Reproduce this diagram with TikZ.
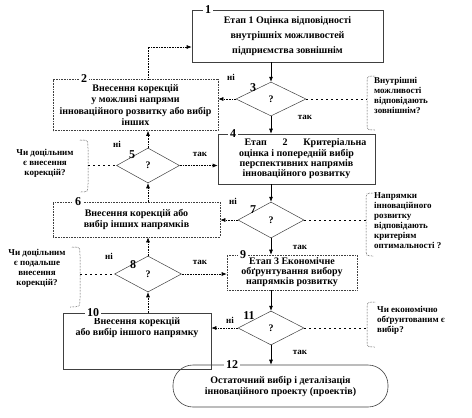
\documentclass[tikz,border=0pt]{standalone}
\usepackage{fontspec}
\setmainfont{Liberation Serif}
\usetikzlibrary{shapes.geometric,arrows.meta,calc}
\begin{document}
\begin{tikzpicture}[x=1pt,y=-1pt,
  every node/.style={font=\bfseries\fontsize{10}{11}\selectfont, inner sep=0pt},
  box/.style={draw=black!75, line width=0.6pt, align=center},
  dbox/.style={box, densely dotted},
  dia/.style={diamond, draw=black!75, line width=0.5pt, inner sep=0pt},
  num/.style={font=\bfseries\fontsize{12}{12}\selectfont, fill=white, inner xsep=2pt, inner ysep=1pt},
  dnum/.style={font=\bfseries\fontsize{12}{12}\selectfont},
  lab/.style={font=\bfseries\fontsize{9}{9}\selectfont},
  note/.style={font=\bfseries\fontsize{9}{10}\selectfont},
  arr/.style={-{Latex[length=5pt,width=4pt]}, line width=0.6pt},
  darr/.style={arr, densely dotted},
  link/.style={line width=0.5pt, dash pattern=on 2pt off 3pt},
  brace/.style={line width=0.5pt, densely dotted}
]
\useasboundingbox (0,0) rectangle (472,418);

% boxes
\node[box, minimum width=191pt, minimum height=52pt, font=\bfseries\fontsize{10}{15}\selectfont] (b1) at (287.5,36)
  {Етап 1 Оцінка відповідності\\внутрішніх можливостей\\підприємства зовнішнім};
\node[num] (n1) at (208,10) {1};

\node[dbox, minimum width=165pt, minimum height=51pt, font=\bfseries\fontsize{10}{11.5}\selectfont] (b2) at (135.5,105)
  {Внесення корекцій\\у можливі напрями\\інноваційного розвитку або вибір\\інших};
\node[num] (n2) at (84,79) {2};

\node[box, minimum width=157pt, minimum height=50pt, font=\bfseries\fontsize{10}{10.3}\selectfont] (b4) at (296.5,159)
  {\makebox[140pt][r]{\makebox[122pt][s]{Етап 2 Критеріальна}}\\оцінка і попередній вибір\\перспективних напрямів\\інноваційного розвитку};
\node[num] (n4) at (233,134) {4};

\node[dbox, minimum width=167pt, minimum height=35pt] (b6) at (136.5,219.5)
  {Внесення корекцій або\\вибір інших напрямків};
\node[num] (n6) at (78,202) {6};

\node[dbox, minimum width=130pt, minimum height=35pt, font=\bfseries\fontsize{10}{10}\selectfont] (b9) at (292,272.5)
  {Етап 3 Економічне\\обґрунтування вибору\\напрямків розвитку};
\node[num] (n9) at (243,255) {9};

\node[box, minimum width=148pt, minimum height=56pt] (b10) at (137,341) {};
\node[anchor=north, align=center] (t10) at ($(b10.north)+(0,5)$)
  {Внесення корекцій\\або вибір іншого напрямку};
\node[num] (n10) at (93,313) {10};

\node[draw=black!75, line width=0.6pt, rounded corners=20pt, minimum width=215pt, minimum height=42pt, align=center] (e12) at (280.5,386)
  {Остаточний вибір і деталізація\\інноваційного проекту (проектів)};
\node[num] (n12) at (232,365) {12};

% diamonds
\node[dia, minimum width=70pt, minimum height=34pt] (d3) at (271,99) {?};
\node[dnum] at (253,88) {3};
\node[dia, minimum width=63pt, minimum height=35pt] (d5) at (148,165.5) {?};
\node[dnum] at (132,155) {5};
\node[dia, minimum width=66pt, minimum height=36pt] (d7) at (271,220) {?};
\node[dnum] at (253,210) {7};
\node[dia, minimum width=67pt, minimum height=36pt] (d8) at (148,274) {?};
\node[dnum] at (133,265) {8};
\node[dia, minimum width=66pt, minimum height=34pt] (d11) at (271,328) {?};
\node[dnum] at (249,316) {11};

% yes / no labels
\node[lab] at (231,77) {ні};
\node[lab] at (305,117) {так};
\node[lab] at (117,144) {ні};
\node[lab] at (200,154) {так};
\node[lab] at (233,201) {ні};
\node[lab] at (300,247) {так};
\node[lab] at (109,256) {ні};
\node[lab] at (200,262) {так};
\node[lab] at (230,320) {ні};
\node[lab] at (300,352) {так};

% main flow
\draw[arr] (d3.north |- b1.south) -- (d3.north);
\draw[arr] (d3.south) -- (d3.south |- b4.north);
\draw[arr] (d7.north |- b4.south) -- (d7.north);
\draw[arr] (d7.south) -- (d7.south |- b9.north);
\draw[arr] (d11.north |- b9.south) -- (d11.north);
\draw[arr] (d11.south) -- (d11.south |- e12.north);

% dotted connectors
\draw[darr] (d3.west) -- (d3.west -| b2.east);
\draw[darr] (d5.north |- b2.north) |- ($(b1.west)+(0,11)$);
\draw[darr] (d5.north) -- (d5.north |- b2.south);
\draw[darr] (d5.south |- b6.north) -- (d5.south);
\draw[darr] (d5.east) -- (d5.east -| b4.west);
\draw[darr] (d7.west) -- (d7.west -| b6.east);
\draw[darr] (d8.north) -- (d8.north |- b6.south);
\draw[darr] (d8.south |- b10.north) -- (d8.south);
\draw[darr] (d8.east) -- (d8.east -| b9.west);
\draw[darr] (d11.west) -- (d11.west -| b10.east);

% notes
\node[note, anchor=north west, align=left] (q3) at (374,77)
  {Внутрішні\\можливості\\відповідають\\зовнішнім?};
\coordinate (c3) at (367,99);
\draw[brace] (375,76) .. controls (367,76) .. (367,84) -- (367,122) .. controls (367,130) .. (375,130);
\draw[link] (d3.east) -- (c3);

\node[note, align=center] (q5) at (45,163)
  {Чи доцільним\\є внесення\\корекцій?};
\coordinate (c5) at (88,165.5);
\draw[brace] (80,140) .. controls (88,140) .. (88,148) -- (88,184) .. controls (88,192) .. (80,192);
\draw[link] (c5) -- (d5.west);

\node[note, anchor=north west, align=left] (q7) at (374,192)
  {Напрямки\\інноваційного\\розвитку\\відповідають\\критеріям\\оптимальності ?};
\coordinate (c7) at (366,220);
\draw[brace] (373,193) .. controls (366,193) .. (366,201) -- (366,248) .. controls (366,256) .. (373,256);
\draw[link] (d7.east) -- (c7);

\node[note, align=center] (q8) at (37,268)
  {Чи доцільним\\є подальше\\внесення\\корекцій?};
\coordinate (c8) at (80,274);
\draw[brace] (72,247) .. controls (80,247) .. (80,255) -- (80,299) .. controls (80,307) .. (70,307);
\draw[link] (c8) -- (d8.west);

\node[note, anchor=north west, align=left] (q11) at (377,306)
  {Чи економічно\\обґрунтованим є\\вибір?};
\coordinate (c11) at (367,328);
\draw[brace] (375,302) .. controls (367,302) .. (367,310) -- (367,339) .. controls (367,347) .. (375,347);
\draw[link] (d11.east) -- (c11);
\end{tikzpicture}
\end{document}
